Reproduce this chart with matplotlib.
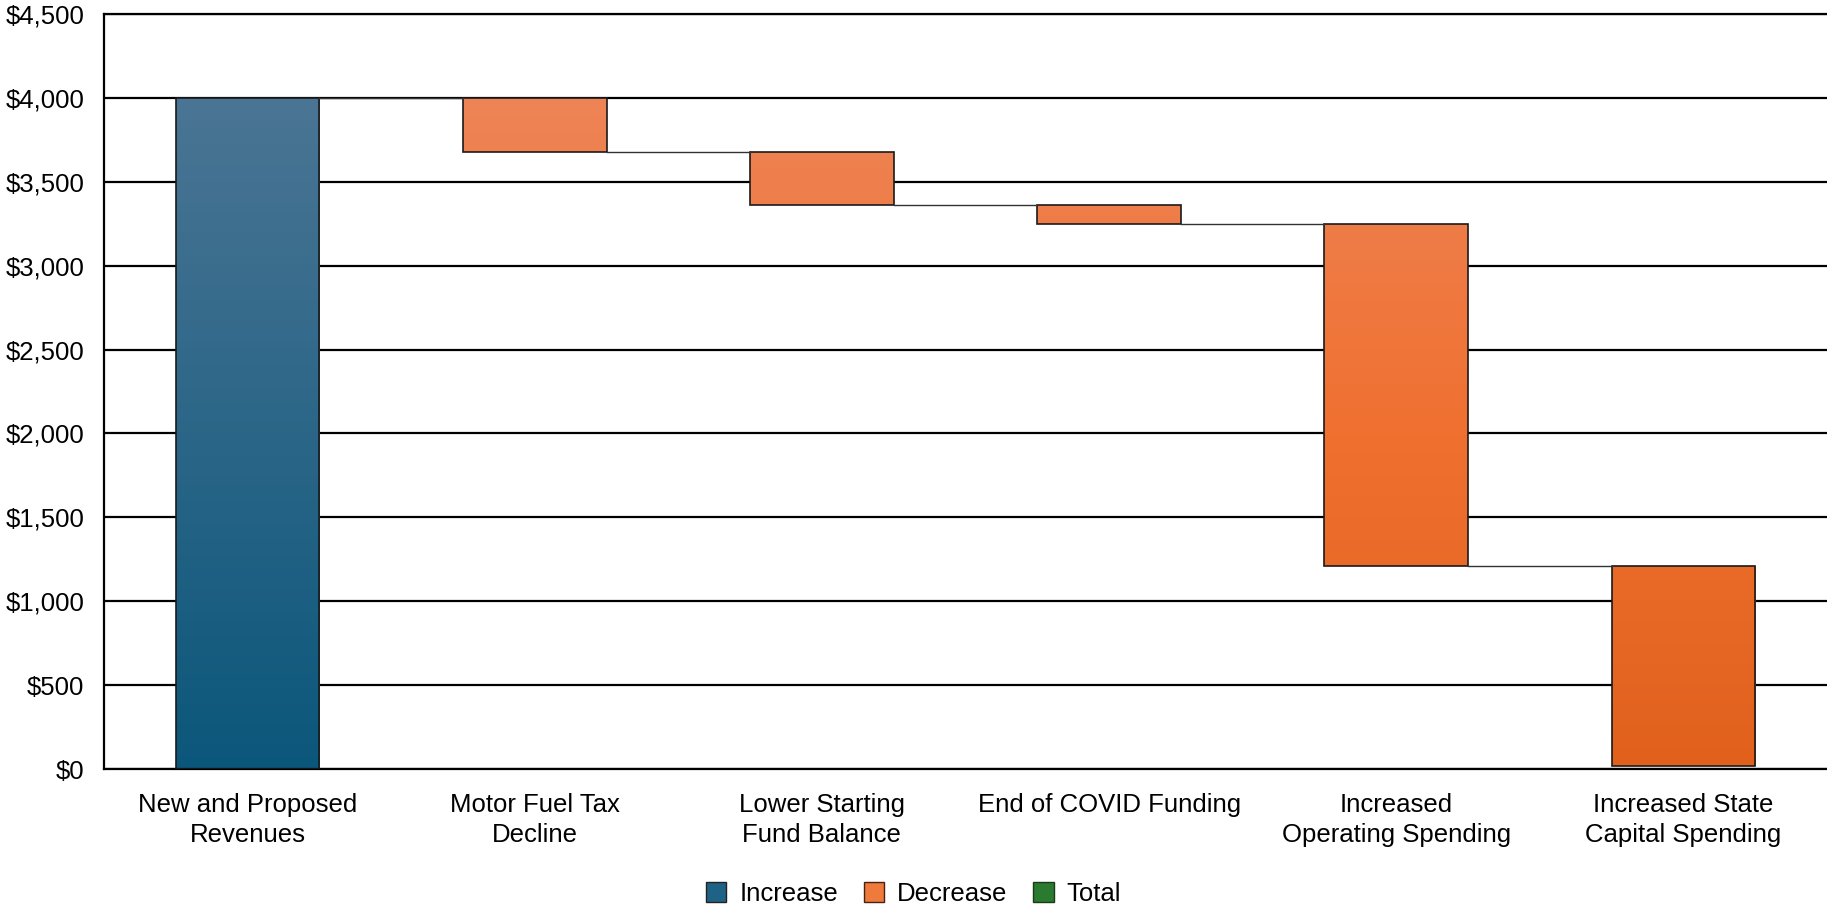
# Waterfall chart of revenues vs. decreases

import matplotlib
matplotlib.use("Agg")
import matplotlib.pyplot as plt
import numpy as np
from matplotlib.patches import Patch
from matplotlib.colors import LinearSegmentedColormap

plt.rcParams['font.family'] = ['Liberation Sans', 'DejaVu Sans']

categories = ['New and Proposed\nRevenues', 'Motor Fuel Tax\nDecline',
              'Lower Starting\nFund Balance', 'End of COVID Funding',
              'Increased\nOperating Spending', 'Increased State\nCapital Spending']
changes = [4000, -321, -318, -113, -2038, -1194]
yticks = [0, 500, 1000, 1500, 2000, 2500, 3000, 3500, 4000, 4500]
legend_labels = ['Increase', 'Decrease', 'Total']

blue_cmap = LinearSegmentedColormap.from_list('b', ['#0b577b', '#4b7594'])
orange_cmap = LinearSegmentedColormap.from_list('o', ['#e0601c', '#f07030', '#ee8456'])

fig = plt.figure(figsize=(18.27, 9.09), dpi=100)
ax = fig.add_axes([0.0569, 0.154, 0.9431, 0.8306])

ymax = 4500
width = 0.5
level = 0
ends = []
for i, c in enumerate(changes):
    lo, hi = sorted([level, level + c])
    cmap = blue_cmap if c > 0 else orange_cmap
    grad = np.linspace(0, 1, 256).reshape(-1, 1)
    im = ax.imshow(grad, cmap=cmap, origin='lower', aspect='auto',
                   extent=[i - width / 2, i + width / 2, 0, 4000],
                   vmin=0, vmax=1, zorder=2)
    rect = plt.Rectangle((i - width / 2, lo), width, hi - lo,
                         facecolor='none', edgecolor='#1a1a1a', lw=1.2, zorder=3)
    ax.add_patch(rect)
    im.set_clip_path(rect)
    level += c
    ends.append(level)

# connectors
for i in range(len(changes) - 1):
    ax.plot([i + width / 2, i + 1 - width / 2], [ends[i], ends[i]],
            color='#333333', lw=1.0, zorder=3)

ax.set_xlim(-0.5, len(categories) - 0.5)
ax.set_ylim(0, ymax)
ax.set_yticks(yticks)
ax.set_yticklabels(['${:,}'.format(v) for v in yticks])
ax.set_xticks(range(len(categories)))
ax.set_xticklabels(categories, linespacing=1.35)
ax.tick_params(axis='both', length=0, labelsize=18.5, colors='black')
ax.tick_params(axis='x', pad=17)
ax.tick_params(axis='y', pad=14)
ax.grid(axis='y', color='black', lw=1.6, zorder=1)
ax.set_axisbelow(True)
ax.spines['right'].set_visible(False)
for s in ['left', 'bottom', 'top']:
    ax.spines[s].set_linewidth(1.6)

handles = [Patch(facecolor='#1e6285', edgecolor='#222222'),
           Patch(facecolor='#ee7a3c', edgecolor='#4a2010'),
           Patch(facecolor='#2a7a30', edgecolor='#1a3a1a')]
fig.legend(handles, legend_labels, loc='lower center', bbox_to_anchor=(0.5, -0.022),
           ncol=3, frameon=False, fontsize=18.5, handlelength=0.8, handleheight=0.8,
           handletextpad=0.5, columnspacing=1.0)

fig.savefig('out.png', dpi=100)
